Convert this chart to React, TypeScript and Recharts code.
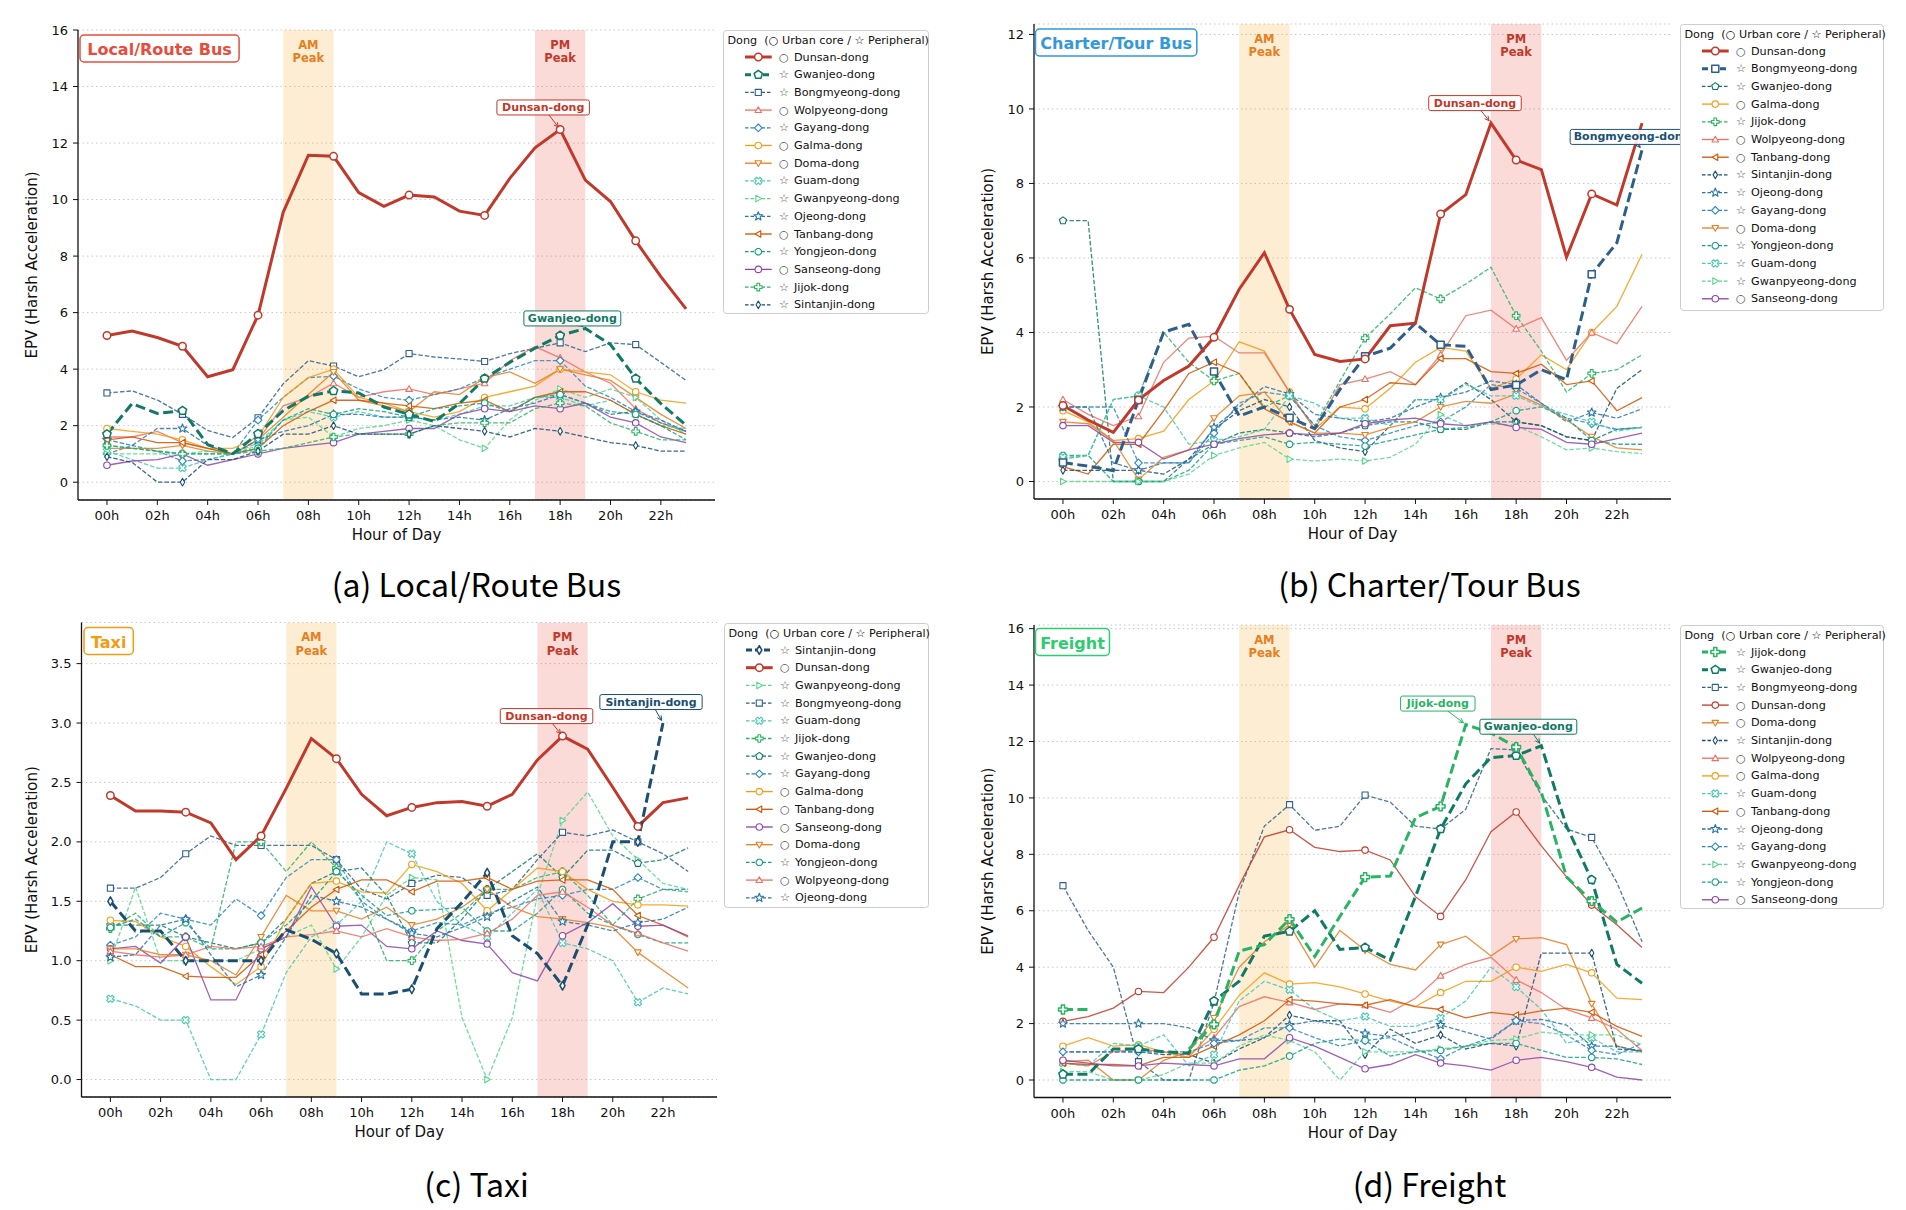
import React from "react";
import {
  LineChart,
  Line,
  XAxis,
  YAxis,
  CartesianGrid,
  ReferenceArea,
  ReferenceDot,
} from "recharts";

const SANS = "'DejaVu Sans', Verdana, sans-serif";
const KR = "'Noto Sans CJK KR', 'Noto Sans', sans-serif";

const hours = Array.from({ length: 24 }, (_, i) => i);
const hourTicks = [0, 2, 4, 6, 8, 10, 12, 14, 16, 18, 20, 22];

// (a) Local/Route Bus
const routeDunsan = [5.19, 5.35, 5.12, 4.81, 3.73, 3.98, 5.91, 9.55, 11.57, 11.53, 10.25, 9.76, 10.16, 10.09, 9.59, 9.44, 10.75, 11.83, 12.48, 10.69, 9.93, 8.54, 7.27, 6.13];
const routeGwanjeo = [1.7, 2.78, 2.43, 2.53, 1.33, 1.01, 1.71, 2.53, 3.04, 3.23, 3.16, 2.66, 2.4, 2.15, 2.78, 3.67, 4.24, 4.74, 5.19, 5.44, 4.87, 3.67, 2.78, 2.02];
const routeBongmyeong = [3.16, 3.23, 2.91, 2.4, 1.83, 1.58, 2.28, 3.48, 4.3, 4.11, 3.73, 3.98, 4.55, 4.43, 4.36, 4.27, 4.55, 4.74, 4.93, 4.62, 4.93, 4.87, 4.24, 3.6];
const routeWolpyeong = [1.6, 1.6, 1.8, 1.4, 1.2, 1.0, 1.5, 2.7, 3.0, 3.5, 3.0, 3.2, 3.3, 3.1, 3.3, 3.5, 4.3, 4.8, 4.4, 3.9, 3.5, 2.6, 2.1, 1.8];
const routeGayang = [1.0, 1.3, 1.1, 0.75, 0.8, 1.0, 2.2, 3.0, 3.7, 3.75, 3.3, 3.0, 2.9, 3.1, 3.3, 3.7, 4.0, 4.3, 4.3, 3.4, 3.0, 2.5, 2.1, 1.8];
const routeGalma = [1.9, 1.8, 1.7, 1.5, 1.2, 1.2, 1.6, 3.0, 3.7, 4.0, 3.0, 2.8, 2.5, 2.3, 2.5, 3.0, 3.2, 3.4, 4.0, 3.9, 3.8, 3.2, 2.9, 2.8];
const routeDoma = [1.2, 1.2, 1.2, 1.3, 1.1, 1.0, 1.5, 2.3, 3.1, 3.9, 2.9, 2.7, 2.5, 3.2, 3.1, 3.7, 3.9, 3.5, 4.0, 3.8, 3.6, 3.0, 2.4, 1.9];
const routeGuam = [1.1, 0.8, 0.5, 0.5, 0.8, 1.0, 1.4, 2.2, 2.5, 2.3, 2.5, 2.3, 2.3, 2.2, 2.4, 2.7, 2.7, 3.0, 3.0, 2.7, 2.9, 2.4, 2.0, 1.9];
const routeGwanpyeong = [1.0, 1.0, 1.0, 1.0, 1.1, 1.0, 1.3, 2.2, 2.3, 1.6, 1.9, 2.0, 2.2, 2.0, 1.5, 1.2, 2.2, 2.9, 3.3, 3.0, 3.3, 3.0, 2.2, 1.7];
const routeOjeong = [1.5, 1.3, 1.9, 1.9, 1.3, 1.0, 1.5, 1.8, 2.0, 2.4, 2.4, 2.3, 2.3, 2.2, 2.3, 2.2, 2.6, 2.8, 3.1, 2.8, 2.4, 2.5, 2.2, 1.8];
const routeTanbang = [1.5, 1.6, 1.4, 1.4, 1.2, 1.0, 1.2, 2.0, 2.5, 2.9, 2.9, 2.8, 2.7, 2.6, 2.8, 2.9, 2.5, 3.0, 3.2, 3.2, 2.9, 2.4, 2.0, 1.7];
const routeYongjeon = [1.3, 1.2, 1.1, 1.0, 1.0, 1.0, 1.2, 2.2, 2.6, 2.4, 2.6, 2.5, 2.3, 2.6, 2.7, 2.8, 2.5, 3.0, 3.1, 2.8, 2.5, 2.4, 2.0, 1.5];
const routeSanseong = [0.6, 0.75, 0.8, 1.0, 0.6, 0.8, 1.0, 1.2, 1.3, 1.4, 1.7, 1.8, 1.9, 1.9, 2.4, 2.6, 2.5, 2.7, 2.6, 2.8, 2.3, 2.1, 1.6, 1.4];
const routeJijok = [1.3, 1.2, 1.1, 1.0, 1.0, 1.0, 1.1, 1.2, 1.4, 1.6, 1.7, 1.7, 1.7, 2.0, 2.1, 2.1, 2.1, 2.6, 2.8, 2.7, 2.1, 1.8, 1.5, 1.5];
const routeSintanjin = [0.9, 0.7, 0.0, 0.0, 0.8, 0.8, 1.1, 1.7, 1.7, 2.0, 1.7, 1.7, 1.7, 2.0, 1.9, 1.8, 1.6, 1.9, 1.8, 1.6, 1.4, 1.3, 1.1, 1.1];

// (b) Charter/Tour Bus
const charterDunsan = [2.04, 1.65, 1.32, 2.19, 2.71, 3.1, 3.87, 5.16, 6.14, 4.62, 3.41, 3.22, 3.29, 4.18, 4.25, 7.18, 7.7, 9.62, 8.63, 8.37, 6.02, 7.72, 7.42, 9.62];
const charterBongmyeong = [0.51, 0.41, 0.29, 2.19, 4.01, 4.22, 2.95, 1.76, 2.0, 1.71, 1.42, 2.47, 3.36, 3.58, 4.25, 3.67, 3.63, 2.47, 2.59, 3.0, 2.73, 5.56, 6.41, 8.9];
const charterGwanjeo = [7.0, 7.0, 0.0, 0.0, 0.0, 0.6, 1.0, 1.3, 1.4, 1.3, 1.2, 1.3, 1.5, 1.6, 1.6, 1.4, 1.4, 1.6, 1.6, 1.5, 1.2, 1.1, 1.4, 1.45];
const charterGalma = [1.9, 1.6, 1.1, 1.15, 1.35, 2.2, 2.7, 3.75, 3.5, 2.4, 1.4, 2.0, 1.95, 2.5, 3.2, 3.6, 3.5, 2.5, 2.75, 3.4, 3.0, 4.0, 4.7, 6.1];
const charterJijok = [0.6, 0.7, 2.2, 2.3, 4.0, 3.2, 2.7, 2.9, 2.0, 2.3, 1.5, 2.7, 3.85, 4.5, 5.2, 4.9, 5.3, 5.75, 4.45, 3.5, 2.4, 2.9, 3.0, 3.4];
const charterWolpyeong = [2.2, 1.8, 1.5, 1.75, 3.2, 3.85, 3.9, 3.45, 3.45, 2.4, 1.4, 2.6, 2.75, 2.95, 2.6, 3.4, 4.45, 4.6, 4.1, 4.4, 3.25, 4.0, 3.7, 4.7];
const charterTanbang = [0.4, 0.2, 1.0, 1.0, 1.9, 2.9, 3.2, 2.9, 1.95, 1.6, 1.3, 2.0, 2.2, 2.65, 2.6, 3.3, 3.3, 2.95, 2.9, 3.15, 2.6, 2.7, 1.9, 2.25];
const charterSintanjin = [0.3, 0.3, 0.3, 0.3, 0.2, 0.6, 1.4, 1.9, 2.2, 2.0, 1.1, 0.9, 0.8, 1.5, 2.2, 2.2, 2.65, 2.2, 1.6, 1.5, 1.2, 1.1, 2.5, 3.0];
const charterOjeong = [2.0, 2.0, 0.5, 0.3, 0.5, 0.5, 1.45, 2.0, 2.55, 2.35, 1.8, 1.7, 1.6, 1.7, 2.0, 2.25, 2.4, 2.7, 2.6, 2.1, 1.6, 1.85, 1.7, 1.95];
const charterGayang = [2.0, 2.0, 2.0, 0.5, 0.5, 0.5, 1.3, 2.1, 2.4, 2.3, 1.5, 1.2, 1.1, 1.3, 1.5, 1.6, 2.0, 2.6, 2.5, 2.1, 1.7, 1.55, 1.4, 1.45];
const charterDoma = [1.6, 1.55, 1.1, 0.05, 0.65, 0.85, 1.7, 2.3, 2.4, 1.6, 1.3, 1.3, 1.25, 1.45, 1.6, 2.0, 2.15, 2.1, 2.35, 2.05, 1.65, 1.2, 0.9, 0.85];
const charterYongjeon = [0.7, 0.7, 0.0, 0.0, 0.0, 0.3, 1.0, 1.1, 1.2, 1.0, 1.05, 1.0, 0.95, 1.1, 1.25, 1.4, 1.45, 1.6, 1.9, 2.0, 1.7, 1.1, 1.0, 1.0];
const charterGuam = [0.65, 0.7, 2.2, 2.3, 2.0, 1.0, 1.1, 1.2, 1.4, 2.3, 2.1, 1.7, 1.7, 1.5, 2.2, 2.2, 2.6, 2.3, 2.3, 2.0, 1.8, 1.6, 1.35, 1.45];
const charterGwanpyeong = [0.0, 0.0, 0.0, 0.0, 0.0, 0.2, 0.7, 0.9, 1.05, 0.6, 0.55, 0.6, 0.55, 0.65, 1.0, 1.8, 1.5, 1.55, 1.5, 1.2, 0.85, 0.9, 0.8, 0.75];
const charterSanseong = [1.5, 1.5, 1.05, 1.05, 0.6, 0.85, 1.0, 1.15, 1.25, 1.3, 1.25, 1.3, 1.55, 1.65, 1.7, 1.55, 1.5, 1.6, 1.45, 1.4, 1.05, 1.0, 1.15, 1.3];

// (c) Taxi
const taxiSintanjin = [1.5, 1.25, 1.25, 1.0, 1.0, 1.0, 1.0, 1.26, 1.18, 1.06, 0.72, 0.72, 0.76, 1.27, 1.49, 1.74, 1.21, 1.06, 0.79, 1.3, 2.0, 2.0, 3.0, null];
const taxiDunsan = [2.39, 2.26, 2.26, 2.25, 2.16, 1.85, 2.05, 2.45, 2.87, 2.7, 2.4, 2.22, 2.29, 2.33, 2.34, 2.3, 2.4, 2.69, 2.89, 2.78, 2.46, 2.13, 2.33, 2.37];
const taxiGwanpyeong = [1.0, 1.62, 1.0, 1.0, 1.0, 1.0, 1.1, 1.2, 1.3, 0.93, 1.2, 1.55, 1.7, 1.68, 0.52, 0.0, 0.52, 1.55, 2.18, 2.42, 2.05, 1.85, 1.65, 1.6];
const taxiBongmyeong = [1.61, 1.61, 1.7, 1.9, 2.05, 1.97, 1.97, 1.97, 1.97, 1.85, 1.6, 1.52, 1.65, 1.72, 1.7, 1.55, 1.6, 1.85, 2.08, 2.05, 2.1, 2.0, 1.9, 1.75];
const taxiGuam = [0.68, 0.62, 0.5, 0.5, 0.0, 0.0, 0.38, 0.9, 1.2, 1.3, 1.5, 2.0, 1.9, 1.5, 1.3, 1.2, 1.4, 1.6, 1.15, 1.1, 1.0, 0.65, 0.77, 0.72];
const taxiJijok = [1.27, 1.4, 1.2, 1.2, 1.1, 2.0, 2.0, 1.75, 2.0, 1.78, 1.5, 1.0, 1.0, 1.25, 1.4, 1.6, 1.6, 1.7, 1.75, 1.55, 1.3, 1.52, 1.6, 1.58];
const taxiGwanjeo = [1.3, 1.3, 1.3, 1.2, 1.15, 1.1, 1.15, 1.35, 1.65, 1.75, 1.78, 1.55, 1.15, 1.15, 1.35, 1.6, 1.75, 1.9, 1.7, 1.93, 1.93, 1.82, 1.85, 1.95];
const taxiGayang = [1.13, 1.2, 1.4, 1.35, 1.3, 1.52, 1.38, 1.7, 1.85, 1.85, 1.5, 1.35, 1.25, 1.32, 1.3, 1.4, 1.45, 1.52, 1.55, 1.6, 1.6, 1.7, 1.6, 1.6];
const taxiGalma = [1.34, 1.33, 1.2, 1.12, 0.95, 0.8, 0.95, 1.35, 1.65, 1.67, 1.58, 1.57, 1.81, 1.75, 1.65, 1.42, 1.6, 1.78, 1.75, 1.6, 1.5, 1.47, 1.47, 1.46];
const taxiTanbang = [1.05, 0.95, 0.95, 0.87, 0.86, 0.86, 1.05, 1.25, 1.45, 1.6, 1.68, 1.68, 1.58, 1.67, 1.67, 1.7, 1.6, 1.67, 1.68, 1.68, 1.6, 1.38, 1.3, 1.2];
const taxiSanseong = [1.1, 1.12, 0.98, 1.2, 0.67, 0.67, 1.1, 1.2, 1.62, 1.29, 1.3, 1.12, 1.1, 1.25, 1.17, 1.14, 0.9, 0.83, 1.21, 1.32, 1.48, 1.29, 1.3, 1.21];
const taxiDoma = [1.1, 1.1, 1.05, 1.05, 1.0, 0.88, 1.2, 1.55, 1.42, 1.42, 1.35, 1.45, 1.3, 1.35, 1.45, 1.6, 1.45, 1.37, 1.35, 1.32, 1.28, 1.07, 0.92, 0.77];
const taxiYongjeon = [1.28, 1.35, 1.2, 1.32, 1.1, 1.1, 1.15, 1.3, 1.5, 1.75, 1.55, 1.38, 1.42, 1.43, 1.45, 1.25, 1.25, 1.4, 1.6, 1.4, 1.3, 1.22, 1.15, 1.15];
const taxiWolpyeong = [1.08, 1.05, 1.03, 1.05, 1.12, 1.1, 1.12, 1.2, 1.22, 1.25, 1.2, 1.27, 1.2, 1.17, 1.18, 1.23, 1.35, 1.55, 1.58, 1.45, 1.3, 1.23, 1.15, 1.08];
const taxiOjeong = [1.03, 1.05, 1.3, 1.35, 1.05, 0.78, 0.88, 1.2, 1.55, 1.5, 1.45, 1.35, 1.23, 1.2, 1.28, 1.37, 1.5, 1.62, 1.33, 1.3, 1.25, 1.32, 1.35, 1.45];

// (d) Freight
const freightJijok = [2.5, 2.5, null, null, null, 1.1, 1.97, 4.57, 4.8, 5.7, 4.38, 5.8, 7.19, 7.23, 9.3, 9.7, 12.6, 12.3, 11.8, 10.2, 7.2, 6.34, 5.6, 6.1];
const freightGwanjeo = [0.2, 0.2, 1.1, 1.1, 1.0, 0.95, 2.8, 3.5, 5.1, 5.27, 6.0, 4.63, 4.7, 4.25, 6.5, 8.9, 10.5, 11.43, 11.5, 11.85, 9.0, 7.1, 4.1, 3.43];
const freightBongmyeong = [6.89, 5.3, 4.0, 0.65, 0.0, 0.0, 2.76, 6.66, 9.0, 9.76, 8.85, 9.0, 10.1, 9.85, 9.0, 8.9, 9.6, 11.75, 11.7, 10.1, 8.9, 8.6, 7.0, 4.9];
const freightDunsan = [2.08, 2.25, 2.55, 3.14, 3.1, 4.0, 5.06, 6.9, 8.62, 8.87, 8.25, 8.1, 8.15, 7.8, 6.5, 5.8, 7.1, 8.8, 9.5, 8.3, 7.2, 6.2, 5.5, 4.7];
const freightDoma = [0.65, 0.7, 0.0, 0.0, 0.7, 1.0, 2.2, 4.0, 4.9, 5.5, 4.0, 5.3, 4.6, 4.1, 3.9, 4.8, 5.1, 4.4, 5.0, 5.05, 4.8, 2.7, 1.2, 1.0];
const freightSintanjin = [1.0, 1.0, 1.0, 1.0, 0.9, 0.9, 0.6, 1.1, 1.5, 2.3, 2.1, 2.1, 0.9, 1.8, 1.3, 1.6, 1.1, 1.3, 1.2, 4.5, 4.5, 4.5, 1.1, 1.05];
const freightWolpyeong = [0.6, 0.5, 1.0, 1.1, 1.0, 0.9, 1.5, 2.6, 2.95, 2.75, 2.5, 2.7, 2.65, 2.4, 2.9, 3.7, 4.1, 4.35, 3.55, 3.1, 2.5, 2.2, 1.8, 1.05];
const freightGalma = [1.2, 1.5, 1.2, 1.25, 1.0, 0.8, 1.8, 3.0, 3.8, 3.4, 3.45, 3.3, 3.05, 2.8, 2.6, 3.1, 3.5, 3.5, 4.0, 3.85, 4.1, 3.8, 2.9, 2.85];
const freightGuam = [0.6, 0.5, 1.3, 1.2, 1.6, 0.5, 0.9, 2.8, 3.5, 3.2, 2.5, 2.1, 2.25, 1.9, 1.9, 2.2, 2.8, 4.0, 3.3, 2.5, 1.3, 1.5, 1.0, 1.0];
const freightTanbang = [0.6, 0.55, 0.55, 0.5, 0.8, 0.8, 1.2, 1.6, 2.1, 2.85, 2.8, 2.7, 2.65, 2.85, 2.6, 2.5, 2.2, 2.4, 2.3, 2.45, 2.55, 2.4, 1.9, 1.55];
const freightOjeong = [2.0, 2.0, 2.0, 2.0, 2.0, 1.85, 1.4, 1.4, 1.5, 1.95, 2.1, 1.95, 1.65, 1.55, 1.7, 1.95, 1.7, 1.45, 2.1, 2.15, 1.95, 1.2, 1.2, 1.0];
const freightGayang = [1.0, 1.0, 1.0, 1.0, 1.0, 1.0, 1.3, 1.4, 1.85, 1.85, 1.5, 1.2, 1.4, 1.5, 1.1, 0.75, 1.2, 1.5, 2.1, 2.0, 1.6, 1.05, 0.9, 1.3];
const freightGwanpyeong = [0.3, 0.3, 0.0, 0.0, 0.2, 0.6, 0.6, 1.2, 1.6, 1.4, 1.0, 0.0, 1.0, 1.0, 1.0, 1.1, 1.2, 1.4, 1.45, 1.7, 1.6, 1.6, 1.6, 1.25];
const freightYongjeon = [0.0, 0.0, 0.0, 0.0, 0.0, 0.0, 0.0, 0.35, 0.5, 0.85, 1.3, 1.45, 1.4, 0.85, 1.0, 1.05, 1.2, 1.3, 1.3, 1.05, 0.8, 0.8, 0.75, 0.55];
const freightSanseong = [0.7, 0.6, 0.5, 0.5, 0.6, 0.55, 0.5, 0.75, 0.75, 1.5, 1.2, 0.8, 0.4, 0.55, 0.9, 0.6, 0.5, 0.35, 0.7, 0.8, 0.65, 0.45, 0.1, 0.0];

type Marker = "o" | "p" | "s" | "^" | "v" | "<" | ">" | "D" | "d" | "X" | "*" | "P" | "8";

const dongStyle: Record<string, { color: string; marker: Marker; core: boolean }> = {
  "Dunsan-dong": { color: "#c0392b", marker: "o", core: true },
  "Gwanjeo-dong": { color: "#117a65", marker: "p", core: false },
  "Bongmyeong-dong": { color: "#2e5f8a", marker: "s", core: false },
  "Wolpyeong-dong": { color: "#ec7063", marker: "^", core: true },
  "Gayang-dong": { color: "#2e86c1", marker: "D", core: false },
  "Galma-dong": { color: "#f39c12", marker: "o", core: true },
  "Doma-dong": { color: "#e67e22", marker: "v", core: true },
  "Guam-dong": { color: "#48c9b0", marker: "X", core: false },
  "Gwanpyeong-dong": { color: "#58d68d", marker: ">", core: false },
  "Ojeong-dong": { color: "#2874a6", marker: "*", core: false },
  "Tanbang-dong": { color: "#d35400", marker: "<", core: true },
  "Yongjeon-dong": { color: "#16a085", marker: "8", core: false },
  "Sanseong-dong": { color: "#8e44ad", marker: "o", core: true },
  "Jijok-dong": { color: "#28b463", marker: "P", core: false },
  "Sintanjin-dong": { color: "#1b4f72", marker: "d", core: false },
};

const panels = [
  {
    id: "a",
    title: "Local/Route Bus",
    titleColor: "#e74c3c",
    caption: "(a) Local/Route Bus",
    left: 0, top: 0, width: 730, height: 560,
    margin: { top: 30, right: 15, bottom: 0, left: 0 },
    yWidth: 78, xHeight: 60,
    yDomain: [-0.63, 16], yTicks: [0, 2, 4, 6, 8, 10, 12, 14, 16], yDigits: 0,
    series: [
      ["Dunsan-dong", routeDunsan], ["Gwanjeo-dong", routeGwanjeo], ["Bongmyeong-dong", routeBongmyeong],
      ["Wolpyeong-dong", routeWolpyeong], ["Gayang-dong", routeGayang], ["Galma-dong", routeGalma],
      ["Doma-dong", routeDoma], ["Guam-dong", routeGuam], ["Gwanpyeong-dong", routeGwanpyeong],
      ["Ojeong-dong", routeOjeong], ["Tanbang-dong", routeTanbang], ["Yongjeon-dong", routeYongjeon],
      ["Sanseong-dong", routeSanseong], ["Jijok-dong", routeJijok], ["Sintanjin-dong", routeSintanjin],
    ],
    thick: ["Dunsan-dong", "Gwanjeo-dong"],
    notes: [
      { dong: "Dunsan-dong", hour: 18, dx: -17, dy: -22, color: "#c0392b" },
      { dong: "Gwanjeo-dong", hour: 19, dx: -13, dy: -10, color: "#117a65" },
    ],
    legend: { x: 723, y: 30, w: 205, h: 283 },
    titleBox: { x: 80, y: 35 },
    yLabelX: 32, captionX: 476.5, captionY: 597,
  },
  {
    id: "b",
    title: "Charter/Tour Bus",
    titleColor: "#3498db",
    caption: "(b) Charter/Tour Bus",
    left: 960, top: 0, width: 720, height: 560,
    margin: { top: 24, right: 9, bottom: 0, left: 0 },
    yWidth: 74, xHeight: 61,
    yDomain: [-0.47, 12.28], yTicks: [0, 2, 4, 6, 8, 10, 12], yDigits: 0,
    series: [
      ["Dunsan-dong", charterDunsan], ["Bongmyeong-dong", charterBongmyeong], ["Gwanjeo-dong", charterGwanjeo],
      ["Galma-dong", charterGalma], ["Jijok-dong", charterJijok], ["Wolpyeong-dong", charterWolpyeong],
      ["Tanbang-dong", charterTanbang], ["Sintanjin-dong", charterSintanjin], ["Ojeong-dong", charterOjeong],
      ["Gayang-dong", charterGayang], ["Doma-dong", charterDoma], ["Yongjeon-dong", charterYongjeon],
      ["Guam-dong", charterGuam], ["Gwanpyeong-dong", charterGwanpyeong], ["Sanseong-dong", charterSanseong],
    ],
    thick: ["Dunsan-dong", "Bongmyeong-dong"],
    notes: [
      { dong: "Dunsan-dong", hour: 17, dx: -16, dy: -20, color: "#c0392b" },
      { dong: "Bongmyeong-dong", hour: 23, dx: -10, dy: -13, color: "#1a5276" },
    ],
    legend: { x: 1680, y: 24, w: 203, h: 286 },
    titleBox: { x: 1035.5, y: 29 },
    yLabelX: 988, captionX: 1429.5, captionY: 597,
  },
  {
    id: "c",
    title: "Taxi",
    titleColor: "#f39c12",
    caption: "(c) Taxi",
    left: 0, top: 600, width: 722, height: 560,
    margin: { top: 22.5, right: 5, bottom: 0, left: 0 },
    yWidth: 81.5, xHeight: 63,
    yDomain: [-0.147, 3.846], yTicks: [0, 0.5, 1, 1.5, 2, 2.5, 3, 3.5], yDigits: 1,
    series: [
      ["Sintanjin-dong", taxiSintanjin], ["Dunsan-dong", taxiDunsan], ["Gwanpyeong-dong", taxiGwanpyeong],
      ["Bongmyeong-dong", taxiBongmyeong], ["Guam-dong", taxiGuam], ["Jijok-dong", taxiJijok],
      ["Gwanjeo-dong", taxiGwanjeo], ["Gayang-dong", taxiGayang], ["Galma-dong", taxiGalma],
      ["Tanbang-dong", taxiTanbang], ["Sanseong-dong", taxiSanseong], ["Doma-dong", taxiDoma],
      ["Yongjeon-dong", taxiYongjeon], ["Wolpyeong-dong", taxiWolpyeong], ["Ojeong-dong", taxiOjeong],
    ],
    thick: ["Sintanjin-dong", "Dunsan-dong"],
    notes: [
      { dong: "Dunsan-dong", hour: 18, dx: -16, dy: -20, color: "#c0392b" },
      { dong: "Sintanjin-dong", hour: 22, dx: -12, dy: -21, color: "#1b4f72" },
    ],
    legend: { x: 724, y: 623, w: 204, h: 284 },
    titleBox: { x: 84, y: 627.5 },
    yLabelX: 32, captionX: 476.5, captionY: 1197,
  },
  {
    id: "d",
    title: "Freight",
    titleColor: "#2ecc71",
    caption: "(d) Freight",
    left: 960, top: 600, width: 720, height: 560,
    margin: { top: 25, right: 9, bottom: 0, left: 0 },
    yWidth: 74, xHeight: 62.5,
    yDomain: [-0.62, 16.13], yTicks: [0, 2, 4, 6, 8, 10, 12, 14, 16], yDigits: 0,
    series: [
      ["Jijok-dong", freightJijok], ["Gwanjeo-dong", freightGwanjeo], ["Bongmyeong-dong", freightBongmyeong],
      ["Dunsan-dong", freightDunsan], ["Doma-dong", freightDoma], ["Sintanjin-dong", freightSintanjin],
      ["Wolpyeong-dong", freightWolpyeong], ["Galma-dong", freightGalma], ["Guam-dong", freightGuam],
      ["Tanbang-dong", freightTanbang], ["Ojeong-dong", freightOjeong], ["Gayang-dong", freightGayang],
      ["Gwanpyeong-dong", freightGwanpyeong], ["Yongjeon-dong", freightYongjeon], ["Sanseong-dong", freightSanseong],
    ],
    thick: ["Jijok-dong", "Gwanjeo-dong"],
    notes: [
      { dong: "Jijok-dong", hour: 16, dx: -28, dy: -21, color: "#28b463" },
      { dong: "Gwanjeo-dong", hour: 19, dx: -13, dy: -19, color: "#117a65" },
    ],
    legend: { x: 1680, y: 625, w: 203, h: 283 },
    titleBox: { x: 1035.5, y: 628.5 },
    yLabelX: 988, captionX: 1429.5, captionY: 1197,
  },
];

const fmtHour = (h: number) => `${String(h).padStart(2, "0")}h`;

function regular(n: number, r: number, rot: number, cx: number, cy: number) {
  const pts: string[] = [];
  for (let i = 0; i < n; i++) {
    const a = ((rot + (360 / n) * i) * Math.PI) / 180;
    pts.push(`${cx + r * Math.cos(a)},${cy + r * Math.sin(a)}`);
  }
  return pts.join(" ");
}

function crossPts(s: number, angle: number, cx: number, cy: number) {
  const a = s * 0.36;
  const base = [
    [-a, -s], [a, -s], [a, -a], [s, -a], [s, a], [a, a],
    [a, s], [-a, s], [-a, a], [-s, a], [-s, -a], [-a, -a],
  ];
  const t = (angle * Math.PI) / 180;
  return base
    .map(([x, y]) => `${cx + x * Math.cos(t) - y * Math.sin(t)},${cy + x * Math.sin(t) + y * Math.cos(t)}`)
    .join(" ");
}

function markerShape(kind: Marker, cx: number, cy: number, s: number, color: string, sw: number) {
  const c = { fill: "#ffffff", stroke: color, strokeWidth: sw, strokeLinejoin: "round" as const };
  switch (kind) {
    case "o":
      return <circle cx={cx} cy={cy} r={s * 0.85} {...c} />;
    case "s":
      return <rect x={cx - s * 0.8} y={cy - s * 0.8} width={s * 1.6} height={s * 1.6} {...c} />;
    case "^":
      return <polygon points={regular(3, s, -90, cx, cy + s * 0.15)} {...c} />;
    case "v":
      return <polygon points={regular(3, s, 90, cx, cy - s * 0.15)} {...c} />;
    case "<":
      return <polygon points={regular(3, s, 180, cx + s * 0.15, cy)} {...c} />;
    case ">":
      return <polygon points={regular(3, s, 0, cx - s * 0.15, cy)} {...c} />;
    case "D":
      return <polygon points={regular(4, s, -90, cx, cy)} {...c} />;
    case "d":
      return <polygon points={`${cx},${cy - s} ${cx + s * 0.58},${cy} ${cx},${cy + s} ${cx - s * 0.58},${cy}`} {...c} />;
    case "p":
      return <polygon points={regular(5, s, -90, cx, cy)} {...c} />;
    case "8":
      return <polygon points={regular(8, s * 0.9, 22.5, cx, cy)} {...c} />;
    case "P":
      return <polygon points={crossPts(s, 0, cx, cy)} {...c} />;
    case "X":
      return <polygon points={crossPts(s, 45, cx, cy)} {...c} />;
    case "*": {
      const pts: string[] = [];
      for (let i = 0; i < 10; i++) {
        const r = i % 2 === 0 ? s * 1.2 : s * 0.5;
        const a = ((-90 + 36 * i) * Math.PI) / 180;
        pts.push(`${cx + r * Math.cos(a)},${cy + r * Math.sin(a)}`);
      }
      return <polygon points={pts.join(" ")} {...c} />;
    }
    default:
      return <circle cx={cx} cy={cy} r={s * 0.85} {...c} />;
  }
}

const dashFor = (core: boolean, thick: boolean) => (core ? undefined : thick ? "10 4.5" : "4.5 2");

const makeDot = (kind: Marker, color: string, thick: boolean) => (p: any) => {
  const { cx, cy, index, value } = p;
  if (cx == null || cy == null || value == null || index % 3 !== 0 || Number.isNaN(cy)) {
    return <g key={`m-${index}`} />;
  }
  return <g key={`m-${index}`}>{markerShape(kind, cx, cy, thick ? 4.4 : 3.8, color, thick ? 1.5 : 1.1)}</g>;
};

const peakLabel = (lines: string[], color: string) => (props: any) => {
  const vb = props && props.viewBox;
  if (!vb || vb.x == null) return <g />;
  const cx = vb.x + vb.width / 2;
  return (
    <text x={cx} y={vb.y + 18.5} textAnchor="middle" fill={color} fontSize={11.5} fontWeight="bold" fontFamily={SANS}>
      <tspan x={cx}>{lines[0]}</tspan>
      <tspan x={cx} dy={13.5}>{lines[1]}</tspan>
    </text>
  );
};

function textWidth(t: string, fs: number) {
  let em = 0;
  for (const ch of t) em += "ijltrfJ-".includes(ch) ? 0.4 : 0.71;
  return em * fs;
}

const noteShape = (text: string, color: string, dx: number, dy: number) => (p: any) => {
  const { cx, cy } = p;
  if (cx == null || cy == null) return <g />;
  const fs = 11;
  const w = textWidth(text, fs) + 10;
  const h = 15;
  const bx = cx + dx;
  const by = cy + dy;
  const ux = cx - bx;
  const uy = cy - by;
  const t = Math.min(ux !== 0 ? w / 2 / Math.abs(ux) : 99, uy !== 0 ? h / 2 / Math.abs(uy) : 99);
  const sx = bx + ux * t;
  const sy = by + uy * t;
  const len = Math.hypot(cx - sx, cy - sy);
  const ex = cx - ((cx - sx) / len) * 3;
  const ey = cy - ((cy - sy) / len) * 3;
  const ang = Math.atan2(ey - sy, ex - sx);
  const hl = 5;
  const a1 = ang + Math.PI - 0.45;
  const a2 = ang + Math.PI + 0.45;
  return (
    <g>
      <line x1={sx} y1={sy} x2={ex} y2={ey} stroke={color} strokeWidth={1} />
      <polyline
        points={`${ex + hl * Math.cos(a1)},${ey + hl * Math.sin(a1)} ${ex},${ey} ${ex + hl * Math.cos(a2)},${ey + hl * Math.sin(a2)}`}
        fill="none"
        stroke={color}
        strokeWidth={1}
      />
      <rect x={bx - w / 2} y={by - h / 2} width={w} height={h} rx={2} fill="#ffffff" fillOpacity={0.88} stroke={color} strokeWidth={1} />
      <text x={bx} y={by} textAnchor="middle" dominantBaseline="central" fill={color} fontSize={fs} fontWeight="bold" fontFamily={SANS}>
        {text}
      </text>
    </g>
  );
};

function Panel({ p }: { p: any }) {
  const rows = hours.map((h) => {
    const r: any = { h };
    p.series.forEach(([name, vals]: [string, (number | null)[]]) => {
      r[name] = vals[h];
    });
    return r;
  });
  const thin = p.series.filter(([n]: [string]) => !p.thick.includes(n));
  const thick = p.series.filter(([n]: [string]) => p.thick.includes(n)).reverse();
  const ordered = [...thin, ...thick];
  const tickStyle = { fontSize: 13, fill: "#111", fontFamily: SANS };

  return (
    <div style={{ position: "absolute", left: p.left, top: p.top }}>
      <LineChart width={p.width} height={p.height} data={rows} margin={p.margin}>
        <ReferenceArea x1={7} x2={9} fill="#f5a623" fillOpacity={0.2} stroke="none" ifOverflow="hidden"
          label={peakLabel(["AM", "Peak"], "#e67e22")} />
        <ReferenceArea x1={17} x2={19} fill="#e74c3c" fillOpacity={0.2} stroke="none" ifOverflow="hidden"
          label={peakLabel(["PM", "Peak"], "#c0392b")} />
        <CartesianGrid vertical={false} stroke="#c8c8c8" strokeDasharray="1.5 3" />
        <XAxis
          dataKey="h"
          type="number"
          domain={[-1.15, 24.15]}
          ticks={hourTicks}
          interval={0}
          allowDataOverflow
          height={p.xHeight}
          tickFormatter={fmtHour}
          tick={tickStyle}
          tickSize={5}
          tickMargin={6}
          axisLine={{ stroke: "#111", strokeWidth: 1.3 }}
          tickLine={{ stroke: "#111", strokeWidth: 1 }}
        />
        <YAxis
          type="number"
          domain={p.yDomain}
          ticks={p.yTicks}
          interval={0}
          allowDataOverflow
          width={p.yWidth}
          tickFormatter={(v: number) => v.toFixed(p.yDigits)}
          tick={tickStyle}
          tickSize={5}
          tickMargin={5}
          axisLine={{ stroke: "#111", strokeWidth: 1.3 }}
          tickLine={{ stroke: "#111", strokeWidth: 1 }}
        />
        {ordered.map(([name]: [string]) => {
          const st = dongStyle[name];
          const isThick = p.thick.includes(name);
          return (
            <Line
              key={name}
              dataKey={name}
              type="linear"
              stroke={st.color}
              strokeWidth={isThick ? 3 : 1.3}
              strokeOpacity={isThick ? 1 : 0.85}
              strokeDasharray={dashFor(st.core, isThick)}
              dot={makeDot(st.marker, st.color, isThick)}
              activeDot={false}
              connectNulls={false}
              isAnimationActive={false}
            />
          );
        })}
        {p.notes.map((n: any) => {
          const vals = p.series.find(([name]: [string]) => name === n.dong)[1];
          return (
            <ReferenceDot
              key={n.dong}
              x={n.hour}
              y={vals[n.hour]}
              r={0}
              ifOverflow="visible"
              shape={noteShape(n.dong, n.color, n.dx, n.dy)}
            />
          );
        })}
      </LineChart>
    </div>
  );
}

function Overlay({ p }: { p: any }) {
  const plotLeft = p.left + p.yWidth;
  const plotRight = p.left + p.width - p.margin.right;
  const plotTop = p.top + p.margin.top;
  const plotBottom = p.top + p.height - p.xHeight;
  const tw = textWidth(p.title, 16) * 0 + 0;
  const { x: lx, y: ly, w: lw, h: lh } = p.legend;
  return (
    <g>
      {/* title box */}
      <TitleBox x={p.titleBox.x} y={p.titleBox.y} text={p.title} color={p.titleColor} />
      {/* axis titles */}
      <text x={(plotLeft + plotRight) / 2} y={plotBottom + 40} textAnchor="middle" fontSize={15} fontFamily={SANS} fill="#111">
        Hour of Day
      </text>
      <text
        x={p.yLabelX}
        y={(plotTop + plotBottom) / 2}
        transform={`rotate(-90 ${p.yLabelX} ${(plotTop + plotBottom) / 2})`}
        textAnchor="middle"
        dominantBaseline="central"
        fontSize={15}
        fontFamily={SANS}
        fill="#111"
      >
        EPV (Harsh Acceleration)
      </text>
      {/* caption */}
      <text x={p.captionX} y={p.captionY} textAnchor="middle" fontSize={32} fontFamily={KR} fill="#000">
        {p.caption}
      </text>
      {/* legend */}
      <g fontFamily={SANS} fontSize={11.2}>
        <rect x={lx + 0.5} y={ly + 0.5} width={lw} height={lh} rx={3} fill="#ffffff" fillOpacity={0.92} stroke="#cccccc" />
        <text x={lx + 4.5} y={ly + 14} fill="#111" style={{ whiteSpace: "pre" }}>
          {"Dong  (\u25CB Urban core / \u2606 Peripheral)"}
        </text>
        {p.series.map(([name]: [string], i: number) => {
          const st = dongStyle[name];
          const isThick = p.thick.includes(name);
          const ry = ly + 27 + i * 17.7;
          return (
            <g key={name}>
              <line x1={lx + 22} x2={lx + 48.7} y1={ry} y2={ry} stroke={st.color} strokeWidth={isThick ? 3 : 1.3}
                strokeDasharray={st.core ? undefined : isThick ? "6 3" : "3.5 2"} />
              {markerShape(st.marker, lx + 35.3, ry, isThick ? 4.4 : 3.8, st.color, isThick ? 1.5 : 1.1)}
              <text x={lx + 61} y={ry} textAnchor="middle" dominantBaseline="central" fill="#555">
                {st.core ? "\u25CB" : "\u2606"}
              </text>
              <text x={lx + 71} y={ry} dominantBaseline="central" fill="#111">
                {name}
              </text>
            </g>
          );
        })}
      </g>
      {tw ? null : null}
    </g>
  );
}

function TitleBox({ x, y, text, color }: { x: number; y: number; text: string; color: string }) {
  const fs = 16;
  let em = 0;
  for (const ch of text) em += "iltrfJ/ ".includes(ch) ? 0.42 : 0.7;
  const w = em * fs + 9;
  const h = 27;
  return (
    <g>
      <rect x={x} y={y} width={w} height={h} rx={4} fill="#ffffff" stroke={color} strokeWidth={1.5} />
      <text x={x + w / 2} y={y + h / 2 + 1} textAnchor="middle" dominantBaseline="central" fontSize={fs}
        fontWeight="bold" fontFamily={SANS} fill={color}>
        {text}
      </text>
    </g>
  );
}

export default function App() {
  return (
    <div
      style={{
        position: "absolute",
        left: 0,
        top: 0,
        width: 1906,
        height: 1210,
        background: "#ffffff",
        overflow: "hidden",
      }}
    >
      {panels.map((p) => (
        <Panel key={p.id} p={p} />
      ))}
      <svg width={1906} height={1210} style={{ position: "absolute", left: 0, top: 0, pointerEvents: "none" }}>
        {panels.map((p) => (
          <Overlay key={p.id} p={p} />
        ))}
      </svg>
    </div>
  );
}
